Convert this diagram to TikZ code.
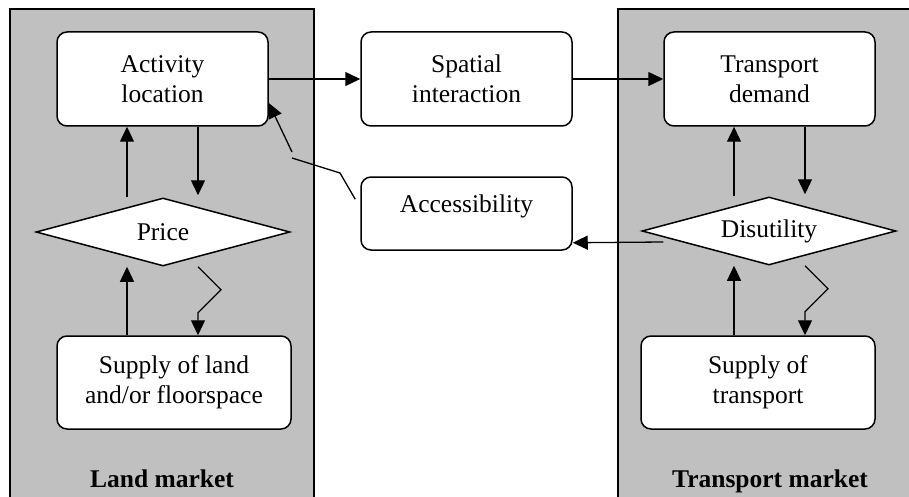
\documentclass[tikz,border=0pt]{standalone}
\usepackage{fontspec}
\setmainfont{Liberation Serif}
\usetikzlibrary{arrows.meta,shapes.geometric,calc}
\definecolor{panelgray}{RGB}{192,192,192}
\begin{document}
\begin{tikzpicture}[x=1pt,y=-1pt,
  txt/.style={font=\fontsize{25.5}{30}\selectfont},
  box/.style={txt,draw,line width=1.5pt,rounded corners=10pt,fill=white,align=center,inner sep=0pt},
  dia/.style={txt,draw,line width=1.5pt,diamond,aspect=3.7,fill=white,inner sep=0pt,minimum width=254pt,minimum height=68pt},
  arr/.style={line width=1.3pt,-{Triangle[length=15pt,width=14pt]}},
  conn/.style={line width=1.3pt},
  panel/.style={draw,line width=1.5pt,fill=panelgray},
  title/.style={font=\bfseries\fontsize{25.5}{30}\selectfont,anchor=base}]
\useasboundingbox (0,0) rectangle (909,497);
\begin{scope}
  \clip (0,0) rectangle (909,497);
  \draw[panel] (10,9) rectangle (314,530);
  \draw[panel] (618,9) rectangle (940,530);
\end{scope}

\node[box,minimum width=211pt,minimum height=94pt] (act) at (162.5,79) {Activity\\location};
\node[box,minimum width=211pt,minimum height=94pt] (spat) at (466.5,79) {Spatial\\interaction};
\node[box,minimum width=211pt,minimum height=94pt] (tdem) at (769.5,79) {Transport\\demand};
\node[box,minimum width=211pt,minimum height=73pt] (acc) at (466.5,213.5) {\raisebox{7pt}[\height][\depth]{Accessibility}};
\node[dia] (price) at (163,232) {Price};
\node[dia] (disu) at (769,231) {Disutility};
\node[box,minimum width=234pt,minimum height=93pt] (sland) at (174,382.5) {Supply of land\\and/or floorspace};
\node[box,minimum width=234pt,minimum height=93pt] (strans) at (758,382.5) {Supply of\\transport};
\node[title] (lm) at (162,487) {Land market};
\node[title] (tm) at (770,487) {Transport market};

% top row
\draw[arr] (act.east) -- (spat.west);
\draw[arr] (spat.east) -- (tdem.west);

% land market loop
\draw[arr] ([xshift=-36pt]price.north) -- ([xshift=-35.5pt]act.south);
\draw[arr] ([xshift=35.5pt]act.south) -- ([xshift=35pt,yshift=2pt]price.north);
\draw[arr] ([xshift=-47pt]sland.north) -- ([xshift=-36pt]price.south);
\draw[arr] ([xshift=35pt]price.south) -- ++(23,23) -- ++(-23,23) -- ([xshift=24pt]sland.north);

% transport market loop
\draw[arr] ([xshift=-35pt]disu.north) -- ([xshift=-35.5pt]tdem.south);
\draw[arr] ([xshift=35.5pt]tdem.south) -- ([xshift=36pt,yshift=2pt]disu.north);
\draw[arr] ([xshift=-24pt]strans.north) -- ([xshift=-35pt]disu.south);
\draw[arr] ([xshift=36pt]disu.south) -- ++(23,23) -- ++(-23,23) -- ([xshift=47pt]strans.north);

% accessibility links
\draw[arr] ([xshift=22pt,yshift=-11pt]disu.west) -- ([yshift=8pt]acc.south east);
\coordinate (k1) at (340,173);
\coordinate (k2) at (292,158);
\coordinate (k3) at (292,152);
\draw[conn] ([xshift=-5pt,yshift=-23pt]acc.north west) -- (k1) -- (k2);
\draw[arr] (k3) -- ([yshift=-24pt]act.east);
\end{tikzpicture}
\end{document}
